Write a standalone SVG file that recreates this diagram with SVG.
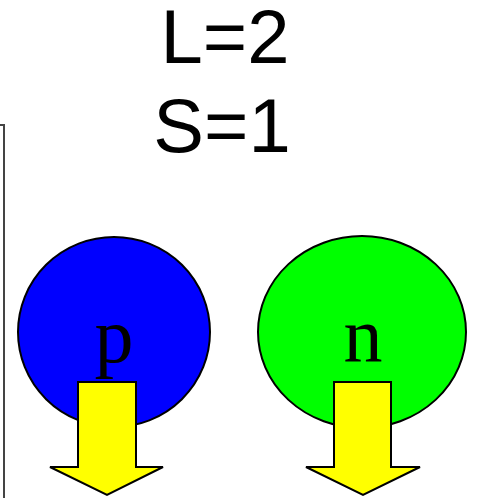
<svg xmlns="http://www.w3.org/2000/svg" width="480" height="498" viewBox="0 0 480 498">
<style>
.t{font-family:"Liberation Sans",Arial,sans-serif;font-size:76px;fill:#000;text-anchor:middle}
.lbl{font-family:"Liberation Serif","Times New Roman",serif;font-size:78px;fill:#000;text-anchor:middle}
.arr{fill:#ffff00;stroke:#000;stroke-width:2;stroke-linejoin:miter}
.nuc{stroke:#000;stroke-width:2}
</style>
<rect width="480" height="498" fill="#fff"/>
<g id="frame"><polyline points="0,125 4,125 4,498" fill="none" stroke="#444" stroke-width="2"/></g>
<g id="title">
<text class="t" x="225" y="63">L=2</text>
<text class="t" x="222" y="152">S=1</text>
</g>
<g id="proton">
<ellipse class="nuc" cx="114" cy="332" rx="96" ry="95" fill="#0000ff"/>
<text class="lbl" x="114" y="362">p</text>
</g>
<g id="neutron">
<ellipse class="nuc" cx="362" cy="332" rx="104" ry="96" fill="#00ff00"/>
<text class="lbl" x="363" y="362">n</text>
</g>
<g id="connectors">
<polygon class="arr" points="78,382 136,382 136,467 163,467 107,495 50,467 78,467"/>
<polygon class="arr" points="334,382 391,382 391,467 420,467 363,495 306,467 334,467"/>
</g>
</svg>
